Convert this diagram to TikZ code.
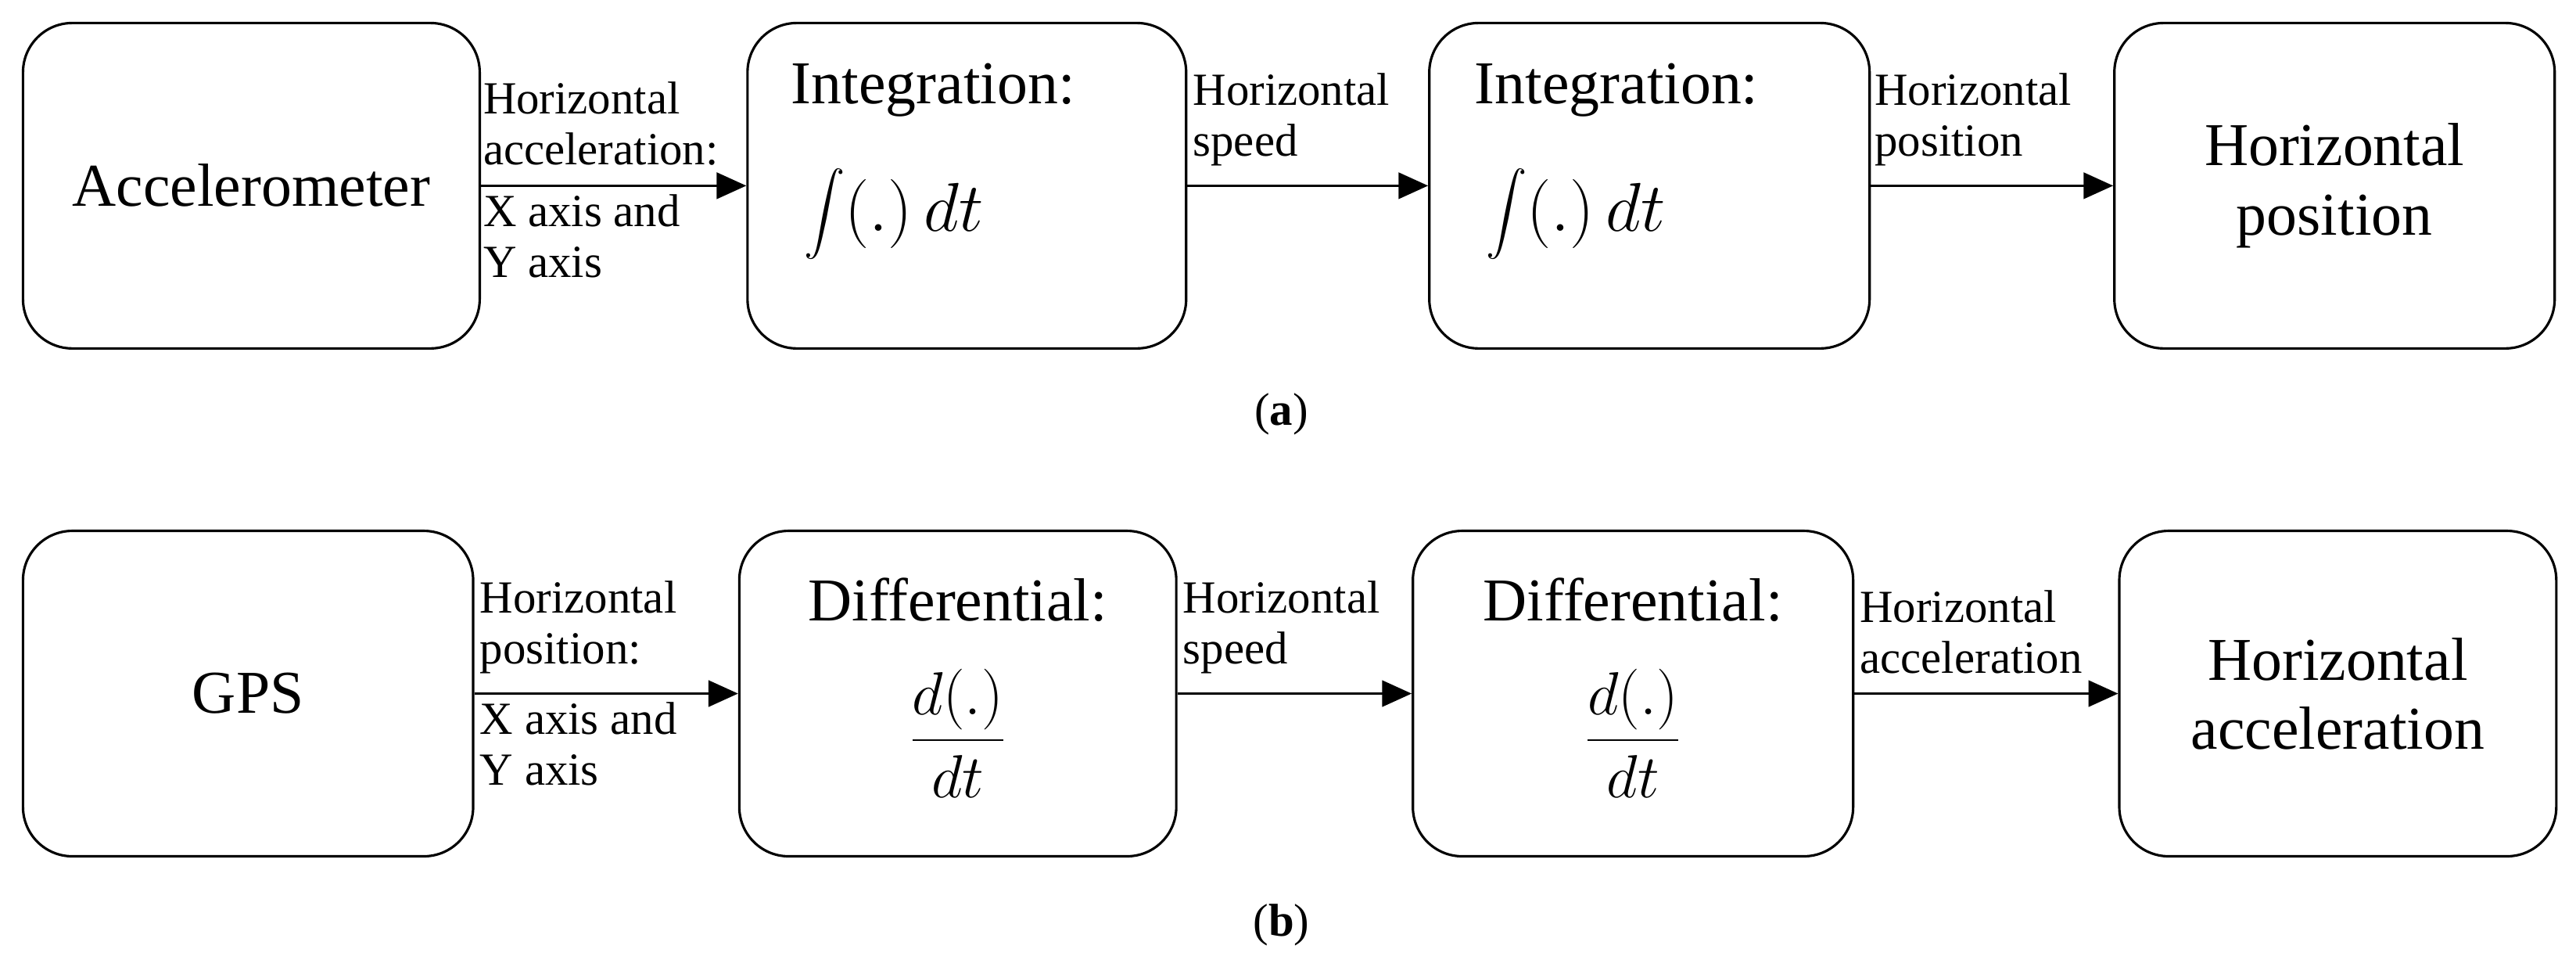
\documentclass[tikz,border=0pt]{standalone}
\usepackage{fix-cm}
\usepackage{amsmath}
\usepackage{fontspec}
\setmainfont{Liberation Serif}
\usetikzlibrary{arrows.meta}
\begin{document}
\begin{tikzpicture}[x=1pt,y=-1pt,
 box/.style={draw,line width=1.5pt,rounded corners=30pt,minimum width=#1,minimum height=198pt,inner sep=0pt},
 big/.style={font=\fontsize{37}{42}\selectfont,align=center},
 mth/.style={font=\fontsize{42}{46}\selectfont},
 lab/.style={font=\fontsize{28}{31}\selectfont,align=left,inner sep=2pt},
 arr/.style={line width=1.3pt,-{Triangle[length=18pt,width=16pt]}}]
\useasboundingbox (0,0) rectangle (1568,588);
% row a
\node[box=278pt,big] (a1) at (153,113) {Accelerometer};
\node[box=267pt] (a2) at (588.5,113) {};
\node[box=268pt] (a3) at (1004,113) {};
\node[box=268pt,big] (a4) at (1421,113) {Horizontal\\position};
\node[big] (a2t) at (568,55) {Integration:};
\node[mth,anchor=west] (a2m) at (486,130) {$\displaystyle\int(.)\,dt$};
\node[big] (a3t) at (984,55) {Integration:};
\node[mth,anchor=west] (a3m) at (901,130) {$\displaystyle\int(.)\,dt$};
\draw[arr] (a1) -- (a2);
\draw[arr] (a2) -- (a3);
\draw[arr] (a3) -- (a4);
\node[lab,anchor=south west] (la1) at (292,103) {Horizontal\\acceleration:};
\node[lab,anchor=north west] (la1b) at (292,116) {X axis and\\Y axis};
\node[lab,anchor=south west] (la2) at (724,103) {Horizontal\\speed};
\node[lab,anchor=south west] (la3) at (1139,103) {Horizontal\\position};
\node[font=\fontsize{28}{32}\selectfont] (capa) at (780,252) {(\textbf{a})};
% row b
\node[box=274pt,big] (b1) at (151,422) {GPS};
\node[box=266pt] (b2) at (583,422) {};
\node[box=268pt] (b3) at (994,422) {};
\node[box=266pt,big] (b4) at (1423,422) {Horizontal\\acceleration};
\node[big] (b2t) at (583,365) {Differential:};
\node[big] (b2m) at (583,446) {$\dfrac{d(.)}{dt}$};
\node[big] (b3t) at (994,365) {Differential:};
\node[big] (b3m) at (994,446) {$\dfrac{d(.)}{dt}$};
\draw[arr] (b1) -- (b2);
\draw[arr] (b2) -- (b3);
\draw[arr] (b3) -- (b4);
\node[lab,anchor=south west] (lb1) at (290,412) {Horizontal\\position:};
\node[lab,anchor=north west] (lb1b) at (290,425) {X axis and\\Y axis};
\node[lab,anchor=south west] (lb2) at (718,412) {Horizontal\\speed};
\node[lab,anchor=south west] (lb3) at (1130,412) {Horizontal\\acceleration};
\node[font=\fontsize{28}{32}\selectfont] (capb) at (780,563) {(\textbf{b})};
\end{tikzpicture}
\end{document}
